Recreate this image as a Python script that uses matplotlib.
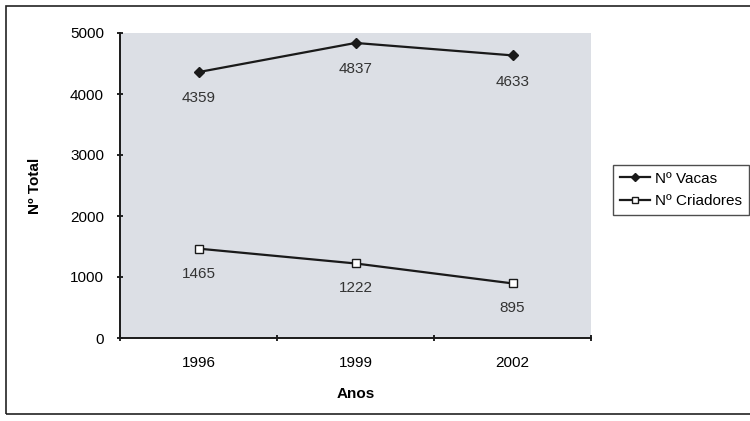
import matplotlib.pyplot as plt
from matplotlib.patches import Rectangle

years = ["1996", "1999", "2002"]
vacas = [4359, 4837, 4633]
criadores = [1465, 1222, 895]
y_ticks = [0, 1000, 2000, 3000, 4000, 5000]

plt.rcParams["font.family"] = ["Liberation Sans", "DejaVu Sans"]

fig = plt.figure(figsize=(7.5, 4.21), dpi=100)
fig.patch.set_facecolor("white")

# outer chart border (scan frame)
fig.add_artist(Rectangle((6 / 750, 7 / 421), 760 / 750, 408 / 421,
                         transform=fig.transFigure, fill=False,
                         edgecolor="#222222", linewidth=1.2))

ax = fig.add_axes([120 / 750, 1 - 338 / 421, 471 / 750, 305 / 421])
ax.set_facecolor("#dcdfe5")

x = list(range(len(years)))
ax.plot(x, vacas, color="#1a1a1a", linewidth=1.6, marker="D", markersize=5,
        markerfacecolor="#1a1a1a", label="Nº Vacas")
ax.plot(x, criadores, color="#1a1a1a", linewidth=1.6, marker="s", markersize=6,
        markerfacecolor="white", markeredgewidth=1.0, label="Nº Criadores")

for xi, v in zip(x, vacas):
    ax.annotate(str(v), (xi, v), xytext=(0, -19), textcoords="offset points",
                ha="center", va="center", fontsize=11, color="#333333")
for xi, v in zip(x, criadores):
    ax.annotate(str(v), (xi, v), xytext=(0, -18), textcoords="offset points",
                ha="center", va="center", fontsize=11, color="#333333")

ax.set_xlim(-0.5, len(years) - 0.5)
ax.set_ylim(0, 5000)
ax.set_yticks(y_ticks)
ax.set_xticks(x)
ax.set_xticklabels(years)
ax.set_xticks([i - 0.5 for i in range(len(years) + 1)], minor=True)
ax.tick_params(axis="x", which="major", length=0, pad=13, labelsize=11)
ax.tick_params(axis="x", which="minor", length=5, direction="inout", width=1.2)
ax.tick_params(axis="y", length=5, direction="inout", width=1.2, labelsize=11, pad=9)

for side in ["top", "right"]:
    ax.spines[side].set_visible(False)
for side in ["left", "bottom"]:
    ax.spines[side].set_linewidth(1.4)
    ax.spines[side].set_color("#1a1a1a")

ax.set_xlabel("Anos", fontsize=11, fontweight="bold", labelpad=12)
ax.set_ylabel("Nº Total", fontsize=11, fontweight="bold", labelpad=20)

fig.legend(loc="upper left", bbox_to_anchor=(605 / 750, 1 - 157 / 421),
           frameon=True, fancybox=False, edgecolor="#222222", fontsize=11,
           handlelength=2.0, borderpad=0.45, labelspacing=0.55, handletextpad=0.3,
           markerscale=0.8)

fig.savefig("out.png", dpi=100)
